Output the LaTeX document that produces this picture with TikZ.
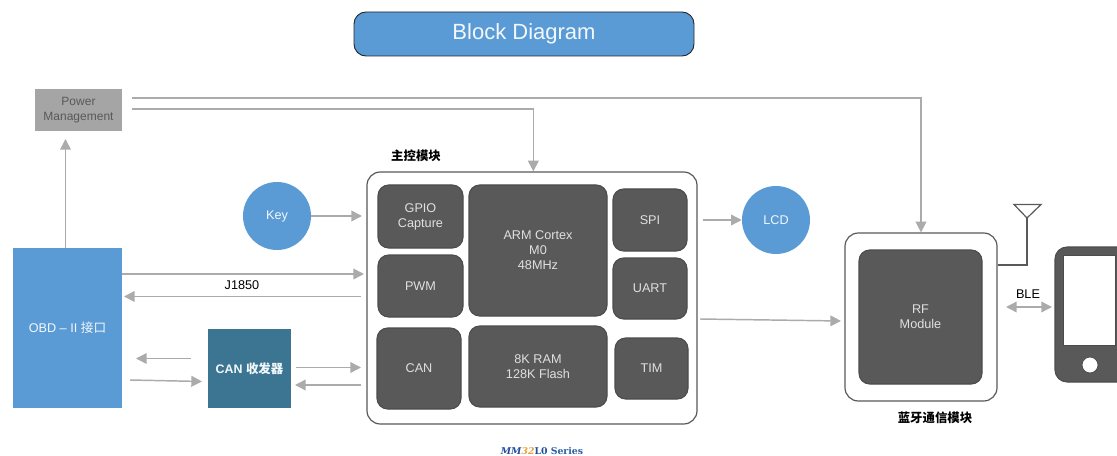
\documentclass[tikz,border=0pt]{standalone}
\usepackage{fontspec}
\setmainfont{Liberation Sans}
\newfontfamily\cjk{Noto Sans CJK SC}
\newfontfamily\logofont{DejaVu Serif}
\usetikzlibrary{arrows.meta}
\definecolor{blueblock}{HTML}{5B9BD5}
\definecolor{tealblock}{HTML}{3B7591}
\definecolor{darkblock}{HTML}{595959}
\definecolor{greyblock}{HTML}{A5A5A5}
\definecolor{linkgrey}{HTML}{ABABAB}
\definecolor{logoblue}{HTML}{1F4E9C}
\definecolor{logoorange}{HTML}{E9A23B}
\tikzset{
  sized/.style 2 args={minimum width=#1*0.75pt,minimum height=#2*0.75pt,inner sep=0pt,align=center},
  chip/.style 2 args={sized={#1}{#2},rounded corners=8pt,fill=darkblock,draw=black!70,line width=0.8pt,text=white!88!black,font=\fontsize{9.5}{11.3}\selectfont},
  frame/.style 2 args={sized={#1}{#2},rounded corners=10pt,draw=darkblock,line width=0.9pt,fill=white},
  flat/.style 2 args={sized={#1}{#2},text=white!92!blueblock,font=\fontsize{9.5}{12}\selectfont},
  dot/.style={circle,minimum size=51pt,inner sep=0pt,fill=blueblock,text=white!92!blueblock,font=\fontsize{9.5}{12}\selectfont},
  caption/.style={inner sep=0pt,font=\cjk\bfseries\fontsize{9.3}{11}\selectfont},
  link/.style={draw=linkgrey,line width=1.1pt,-{Triangle[length=8pt,width=8pt,fill=linkgrey]}},
  linkboth/.style={draw=linkgrey,line width=1.1pt,{Triangle[length=8pt,width=8pt,fill=linkgrey]}-{Triangle[length=8pt,width=8pt,fill=linkgrey]}},
  plain/.style={inner sep=0pt,font=\fontsize{9.5}{12}\selectfont}
}
\begin{document}
\begin{tikzpicture}[x=0.75pt,y=0.75pt]
  \useasboundingbox (0,0) rectangle (1117,-456);
  \clip (0,0) rectangle (1117,-456);
  \node (title) [sized={340}{44},rounded corners=9pt,fill=blueblock,draw=black!85,line width=0.7pt,text=white!92!blueblock,font=\fontsize{16.5}{20}\selectfont] at (524,-34) {Block Diagram};
  \node (power) [sized={87}{42},fill=greyblock,text=darkblock,font=\fontsize{9}{10.7}\selectfont] at (78.5,-110) {Power\\Management};
  \node (obd) [flat={109}{160},fill=blueblock] at (67.5,-328) {OBD -- II {\cjk 接口}};
  \node (key) [dot] at (277,-216) {Key};
  \node (lcd) [dot] at (776,-220) {LCD};
  \node (transceiver) [flat={83}{79},fill=tealblock,font=\bfseries\fontsize{9.3}{12}\selectfont] at (249.5,-368.5) {CAN {\cjk 收发器}};
  \node (mainbox) [frame={330}{252}] at (532,-298) {};
  \node (gpio) [chip={85}{63}] at (420.5,-216.5) {GPIO\\Capture};
  \node (pwm) [chip={85}{62}] at (420.5,-286) {PWM};
  \node (can) [chip={84}{81}] at (419,-368.5) {CAN};
  \node (arm) [chip={138}{131}] at (538,-250.5) {ARM Cortex\\M0\\48MHz};
  \node (ram) [chip={138}{81}] at (538,-366.5) {8K RAM\\128K Flash};
  \node (spi) [chip={74}{62}] at (650,-220) {SPI};
  \node (uart) [chip={74}{61}] at (650,-288.5) {UART};
  \node (tim) [chip={73}{61}] at (651.5,-368.5) {TIM};
  \node (rfbox) [frame={152}{168}] at (921,-317) {};
  \node (rf) [chip={123}{134}] at (920.5,-317) {RF\\Module};
  \node (maincap) [caption] at (416,-156) {主控模块};
  \node (rfcap) [caption] at (935,-418) {蓝牙通信模块};
  \node (j1850) [plain] at (242,-285) {J1850};
  \node (ble) [plain] at (1028,-294) {BLE};
  \node (logo) [inner sep=0pt,font=\logofont\bfseries\fontsize{7}{9}\selectfont] at (542,-451) {{\color{logoblue}\itshape MM}{\color{logoorange}\itshape 32}{\color{logoblue}L0} {\color{logoblue!80!blueblock}Series}};
  \node (phone) [sized={74}{135},rounded corners=9pt,fill=darkblock,draw=black!70,line width=0.8pt] at (1092,-314.5) {};
  \node (screen) [sized={52}{90},fill=white,draw=black!70,line width=0.6pt] at (1089,-300) {};
  \node (button) [circle,minimum size=12pt,inner sep=0pt,fill=white,draw=black!70,line width=0.6pt] at (1090,-365) {};
  \coordinate (pwrtop) at (132,-98);
  \coordinate (pwrlow) at (132,-109);
  \coordinate (obdup) at (65.5,-139);
  \coordinate (keyin) at (362,-216);
  \coordinate (jout) at (364,-274);
  \coordinate (jback) at (361,-296.5);
  \coordinate (jback2) at (124,-296.5);
  \coordinate (canleft1) at (191,-358.5);
  \coordinate (canleft2) at (136,-358.5);
  \coordinate (canright1) at (130,-380);
  \coordinate (canright2) at (202,-381.5);
  \coordinate (mainin) at (361,-367.5);
  \coordinate (transout) at (296,-367.5);
  \coordinate (mainback) at (361,-385);
  \coordinate (transback) at (295,-385);
  \coordinate (spiout) at (703,-220);
  \coordinate (rfin) at (841,-321);
  \coordinate (mainout) at (700,-319);
  \coordinate (bleleft) at (1006,-307);
  \coordinate (bleright) at (1052,-307);
  \coordinate (antfoot) at (1027,-218);
  \coordinate (antleft) at (1014,-204.5);
  \coordinate (antright) at (1041,-204.5);
  \draw [link] (pwrtop) -| (rfbox.north);
  \draw [link] (pwrlow) -| ([xshift=1pt]mainbox.north);
  \draw [link] (obdup |- obd.north) -- (obdup);
  \draw [link] (key.east) -- (keyin);
  \draw [link] (jout -| obd.east) -- (jout);
  \draw [link] (jback) -- (jback2);
  \draw [link] (canleft1) -- (canleft2);
  \draw [link] (canright1) -- (canright2);
  \draw [link] (transout) -- (mainin);
  \draw [link] (mainback) -- (transback);
  \draw [link] (spiout) -- (lcd.west);
  \draw [link] (mainout) -- (rfin);
  \draw [linkboth] (bleleft) -- (bleright);
  \draw [darkblock,line width=0.9pt] (rfbox.east |- 0,-265) -| (antfoot);
  \draw [darkblock,line width=0.9pt] (antleft) -- (antright) -- (antfoot) -- cycle;
\end{tikzpicture}
\end{document}
